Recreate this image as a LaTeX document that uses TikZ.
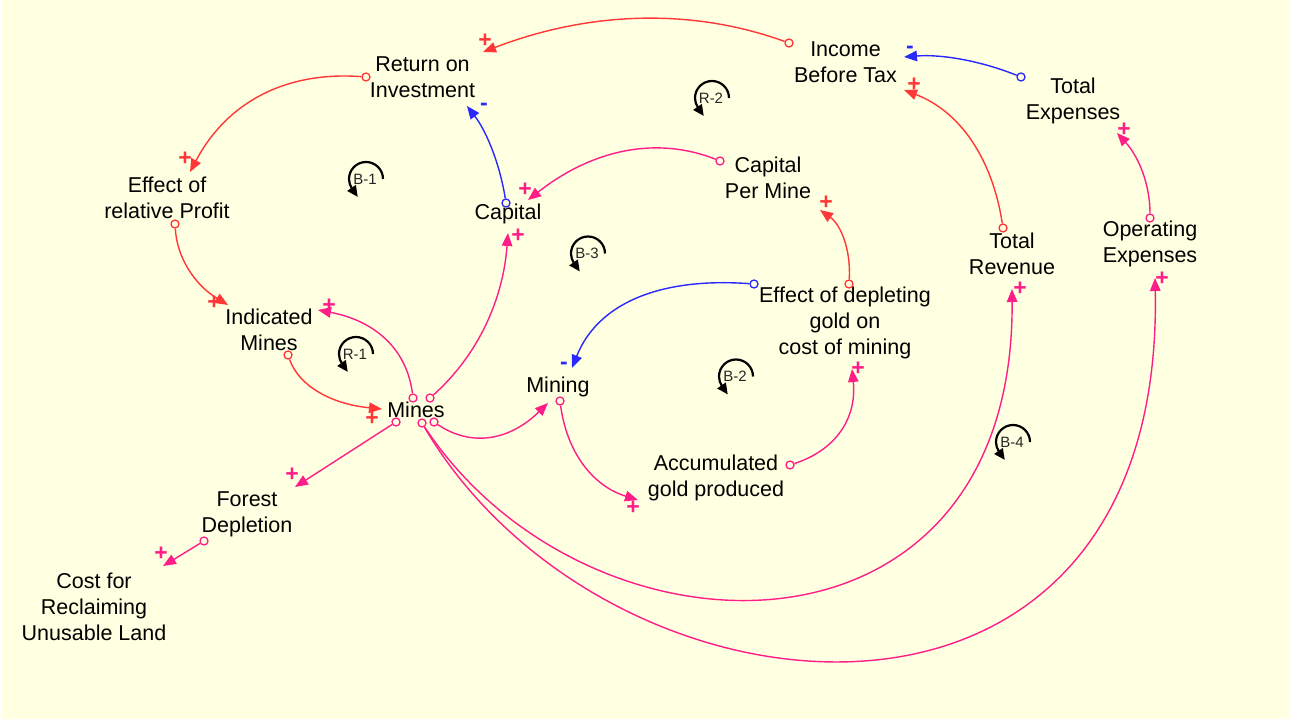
\documentclass[tikz,border=0pt]{standalone}
\usepackage{fontspec}
\setmainfont{Liberation Sans}
\usetikzlibrary{arrows.meta,calc}
\definecolor{bg}{RGB}{255,255,225}
\definecolor{lred}{RGB}{255,55,55}
\definecolor{lpink}{RGB}{255,30,135}
\definecolor{lblue}{RGB}{40,40,255}
\tikzset{
 var/.style={align=center, font=\fontsize{21.5}{26}\selectfont, text=black, inner sep=0pt},
 lnk/.style={line width=1.4pt, -{Triangle[length=13pt,width=10.5pt]}},
 tail/.style={circle, fill=bg, minimum size=8pt, inner sep=0pt, line width=1.3pt},
 sgn/.style={font=\fontsize{23}{23}\selectfont\bfseries, inner sep=0pt},
 loopmark/.style={line width=2.2pt, -{Triangle[length=11pt,width=10pt]}},
 looplbl/.style={font=\fontsize{15}{15}\selectfont, text=black!85, inner sep=0pt},
}
\newcommand\loopsign[4]{%
 \draw[loopmark] (#2+17,#3) arc[start angle=0,end angle=-215,radius=17] -- ++(5.7,8.2);
 \node[looplbl] (#1) at (#2-1,#3) {#4};}
\begin{document}
\begin{tikzpicture}[x=1pt,y=1pt,yscale=-1]
\fill[white] (0,0) rectangle (1290,719);
\fill[bg] (2,0) rectangle (1290,719);
\useasboundingbox (0,0) rectangle (1290,719);

% variables
\node[var] (roi) at (422.5,77.5) {Return on\\Investment};
\node[var] (ibt) at (845.5,62.5) {Income\\Before Tax};
\node[var] (texp) at (1073,101) {Total\\Expenses};
\node[var] (erp) at (167,198) {Effect of\\relative Profit};
\node[var] (cap) at (508,214) {Capital};
\node[var] (cpm) at (768,177.5) {Capital\\Per Mine};
\node[var] (trev) at (1012,254) {Total\\Revenue};
\node[var] (opex) at (1150,244) {Operating\\Expenses};
\node[var] (ind) at (269,330) {Indicated\\Mines};
\node[var] (edg) at (845,323) {Effect of depleting\\gold on\\cost of mining};
\node[var] (mines) at (416,410) {Mines};
\node[var] (mining) at (558,387) {Mining};
\node[var] (acc) at (716,478) {Accumulated\\gold produced};
\node[var] (forest) at (247,514) {Forest\\Depletion};
\node[var] (cost) at (94,607) {Cost for\\Reclaiming\\Unusable Land};

% loop markers
\loopsign{lb1}{366}{179}{B-1}
\loopsign{lr2}{712}{98}{R-2}
\loopsign{lb3}{588}{253.5}{B-3}
\loopsign{lr1}{356}{354}{R-1}
\loopsign{lb2}{736}{376.5}{B-2}
\loopsign{lb4}{1013}{442}{B-4}

% tails
\node[tail,draw=lred] (t1) at (789,43) {};
\node[tail,draw=lblue] (t2) at (1021,77) {};
\node[tail,draw=lred] (t3) at (1003,228) {};
\node[tail,draw=lpink] (t4) at (1150,218) {};
\node[tail,draw=lred] (t5) at (366,77) {};
\node[tail,draw=lblue] (t6) at (506,203) {};
\node[tail,draw=lpink] (t7) at (720,161) {};
\node[tail,draw=lred] (t8) at (849,284) {};
\node[tail,draw=lred] (t9) at (175,224) {};
\node[tail,draw=lred] (t10) at (288,355) {};
\node[tail,draw=lpink] (t11) at (413,398) {};
\node[tail,draw=lpink] (t12) at (430,398) {};
\node[tail,draw=lpink] (t13) at (434,422) {};
\node[tail,draw=lblue] (t14) at (754,284) {};
\node[tail,draw=lpink] (t15) at (560,401) {};
\node[tail,draw=lpink] (t16) at (790,465) {};
\node[tail,draw=lpink] (t17) at (396,422) {};
\node[tail,draw=lpink] (t18) at (204,541) {};
\node[tail,draw=lpink] (t19) at (422,423) {};

% heads
\coordinate (h1) at (483,52);
\coordinate (h2) at (904,57);
\coordinate (h3) at (904,90);
\coordinate (h4) at (1117,133);
\coordinate (h5) at (190,172);
\coordinate (h6) at (467,106);
\coordinate (h7) at (528,200);
\coordinate (h8) at (820,210);
\coordinate (h9) at (228,305);
\coordinate (h10) at (382,409);
\coordinate (h11) at (318,310);
\coordinate (h12) at (508,233);
\coordinate (h13) at (548,403);
\coordinate (h14) at (572,368);
\coordinate (h15) at (638,500);
\coordinate (h16) at (852,369);
\coordinate (h17) at (295,487);
\coordinate (h18) at (163,566);
\coordinate (h19) at (1012,289);
\coordinate (h20) at (1155,278);

% links
\draw[lnk,lred] (t1) .. controls (692,8) and (590,11) .. (h1);
\draw[lnk,lblue] (t2) .. controls (981,61) and (942,54) .. (h2);
\draw[lnk,lred] (t3) .. controls (992,157) and (959,111) .. (h3);
\draw[lnk,lpink] (t4) .. controls (1150,185) and (1139,157) .. (h4);
\draw[lnk,lred] (t5) .. controls (286,71) and (227,102) .. (h5);
\draw[lnk,lblue] (t6) .. controls (500,165) and (487,132) .. (h6);
\draw[lnk,lpink] (t7) .. controls (657,136) and (593,149) .. (h7);
\draw[lnk,lred] (t8) .. controls (851,250) and (841,225) .. (h8);
\draw[lnk,lred] (t9) .. controls (177,258) and (195,285) .. (h9);
\draw[lnk,lred] (t10) .. controls (299,386) and (331,404) .. (h10);
\draw[lnk,lpink] (t11) .. controls (407,350) and (376,321) .. (h11);
\draw[lnk,lpink] (t12) .. controls (477,356) and (503,301) .. (h12);
\draw[lnk,lpink] (t13) .. controls (471,447) and (509,441) .. (h13);
\draw[lnk,lblue] (t14) .. controls (657,277) and (597,305) .. (h14);
\draw[lnk,lpink] (t15) .. controls (567,453) and (593,486) .. (h15);
\draw[lnk,lpink] (t16) .. controls (836,450) and (857,418) .. (h16);
\draw[lnk,lpink] (t17) -- (h17);
\draw[lnk,lpink] (t18) -- (h18);
\draw[lnk,lpink] (t19) .. controls (587,673) and (1015,680) .. (h19);
\draw[lnk,lpink] (t19) .. controls (604,734) and (1165,790) .. (h20);

% polarity signs
\node[sgn,lred] (s1) at (485,41) {+};
\node[sgn,lblue] (s2) at (910,50) {-};
\node[sgn,lred] (s3) at (914,85) {+};
\node[sgn,lpink] (s4) at (1124,130) {+};
\node[sgn,lred] (s5) at (185,159) {+};
\node[sgn,lblue] (s6) at (484,107) {-};
\node[sgn,lpink] (s7) at (525,190) {+};
\node[sgn,lred] (s8) at (826,203) {+};
\node[sgn,lred] (s9) at (214,303) {+};
\node[sgn,lred] (s10) at (372,419) {+};
\node[sgn,lpink] (s11) at (329,306) {+};
\node[sgn,lpink] (s12) at (518,236) {+};
\node[sgn,lblue] (s14) at (564,366) {-};
\node[sgn,lpink] (s15) at (633,508) {+};
\node[sgn,lpink] (s16) at (858,369) {+};
\node[sgn,lpink] (s17) at (292,475) {+};
\node[sgn,lpink] (s18) at (161,554) {+};
\node[sgn,lpink] (s19) at (1020,289) {+};
\node[sgn,lpink] (s20) at (1162,279) {+};
\end{tikzpicture}
\end{document}
